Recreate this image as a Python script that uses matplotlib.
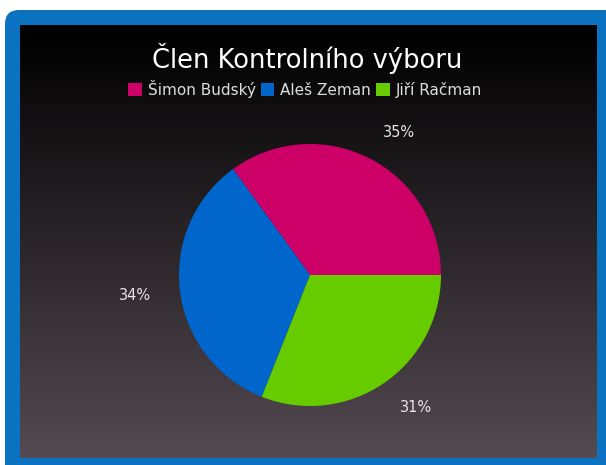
import numpy as np
import matplotlib.pyplot as plt
from matplotlib.patches import FancyBboxPatch

plt.rcParams["font.family"] = ["DejaVu Sans"]

# data
names = ["Šimon Budský", "Aleš Zeman", "Jiří Račman"]
shares = [35, 34, 31]
colors = ["#CC0066", "#0066CC", "#66CC00"]
title = "Člen Kontrolního výboru"

W, H = 606, 465
fig = plt.figure(figsize=(W / 100, H / 100), dpi=100)
fig.patch.set_facecolor("white")

# background: blue rounded frame + dark gradient panel (pixel coordinates)
bg = fig.add_axes([0, 0, 1, 1])
bg.set_xlim(0, W)
bg.set_ylim(H, 0)
bg.axis("off")

frame = FancyBboxPatch((5, 10), 640, 500, boxstyle="round,pad=0,rounding_size=14",
                       facecolor="#0B72C1", edgecolor="none")
bg.add_patch(frame)

top = np.array([0.0, 0.0, 0.0])
bottom = np.array([0.33, 0.29, 0.32])
t = np.linspace(0, 1, 256)[:, None, None]
grad = top + (bottom - top) * t
grad = np.repeat(grad, 2, axis=1)
bg.imshow(grad, extent=[20, 597, 458, 26], aspect="auto", interpolation="bilinear", zorder=2)
bg.set_xlim(0, W)
bg.set_ylim(H, 0)

# pie: centre (310, 275) px, radius 131 px
cx, cy, r = 310, 275, 131
side = 360
ax = fig.add_axes([(cx - side / 2) / W, (H - cy - side / 2) / H, side / W, side / H])
ax.set_facecolor("none")
lim = side / 2 / r
wedges, texts = ax.pie(
    shares,
    colors=colors,
    labels=[f"{v}%" for v in shares],
    labeldistance=1.22,
    startangle=0,
    counterclock=True,
    textprops=dict(color="#E6E6E6", fontsize=10.5),
)
ax.set_xlim(-lim, lim)
ax.set_ylim(-lim, lim)
ax.set_aspect("equal")
ax.axis("off")

fig.text(307 / W, 1 - 58 / H, title, ha="center", va="center",
         color="white", fontsize=18.5)

fig.legend(wedges, names, loc="center", bbox_to_anchor=(305 / W, 1 - 89 / H),
           ncol=3, frameon=False, fontsize=11, labelcolor="#DDDDDD",
           handlelength=0.9, handleheight=0.9, handletextpad=0.4,
           columnspacing=0.3)

fig.savefig("out.png", dpi=100)
